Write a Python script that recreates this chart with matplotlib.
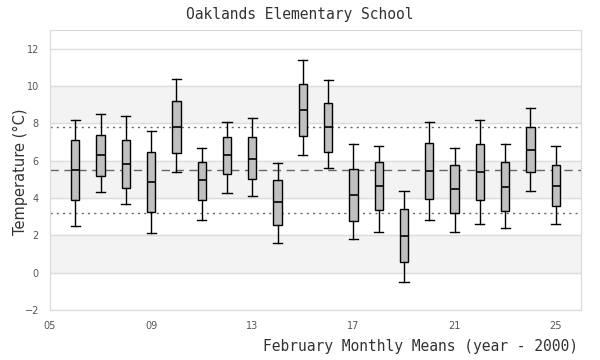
# February monthly mean temperatures - box plot per year

import matplotlib
matplotlib.use('Agg')
import matplotlib.pyplot as plt

years = list(range(6, 26))
whisker_lo = [2.50, 4.33, 3.70, 2.13, 5.40, 2.83, 4.26, 4.11, 1.59, 6.31,
              5.62, 1.81, 2.18, -0.50, 2.83, 2.18, 2.61, 2.40, 4.38, 2.61]
q1 = [3.90, 5.20, 4.54, 3.26, 6.42, 3.90, 5.28, 5.03, 2.56, 7.33,
      6.47, 2.77, 3.36, 0.57, 3.95, 3.20, 3.90, 3.31, 5.40, 3.58]
median = [5.51, 6.31, 5.83, 4.86, 7.82, 4.96, 6.30, 6.10, 3.79, 8.73,
          7.82, 4.17, 4.65, 1.97, 5.45, 4.49, 5.40, 4.60, 6.58, 4.65]
q3 = [7.12, 7.39, 7.12, 6.47, 9.21, 5.92, 7.26, 7.26, 4.97, 10.12,
      9.10, 5.56, 5.94, 3.42, 6.96, 5.78, 6.90, 5.92, 7.82, 5.78]
whisker_hi = [8.19, 8.51, 8.41, 7.60, 10.39, 6.67, 8.07, 8.30, 5.88, 11.41,
              10.34, 6.90, 6.80, 4.38, 8.07, 6.69, 8.19, 6.90, 8.83, 6.80]

overall_mean = 5.5
upper_ref = 7.8
lower_ref = 3.2

xticks = [5, 9, 13, 17, 21, 25]
yticks = [-2, 0, 2, 4, 6, 8, 10, 12]

fig = plt.figure(figsize=(6, 3.6), dpi=100)
ax = fig.add_axes([50 / 600, 1 - 310 / 360, 531 / 600, 280 / 360])

# alternating bands + grid
for lo in [0, 4, 8]:
    ax.axhspan(lo, lo + 2, color='#f3f3f3', zorder=0)
for y in yticks:
    ax.axhline(y, color='#dddddd', lw=1, zorder=0.5)

ax.axhline(overall_mean, color='#666666', lw=1, ls=(0, (6, 4)), zorder=1)
ax.axhline(upper_ref, color='#666666', lw=1, ls=(0, (1.5, 3)), zorder=1)
ax.axhline(lower_ref, color='#666666', lw=1, ls=(0, (1.5, 3)), zorder=1)

stats = []
for i in range(len(years)):
    stats.append({'whislo': whisker_lo[i], 'q1': q1[i], 'med': median[i],
                  'q3': q3[i], 'whishi': whisker_hi[i], 'fliers': []})

ax.bxp(stats, positions=years, widths=0.33, patch_artist=True, showfliers=False,
       boxprops=dict(facecolor='#c0c0c0', edgecolor='black', lw=1),
       medianprops=dict(color='black', lw=1.2),
       whiskerprops=dict(color='black', lw=1),
       capprops=dict(color='black', lw=1),
       capwidths=0.36, zorder=3)

ax.set_xlim(5, 26)
ax.set_ylim(-2, 13)
ax.set_xticks(xticks)
ax.set_xticklabels(['%02d' % x for x in xticks])
ax.set_yticks(yticks)
ax.tick_params(length=0, labelsize=7, labelcolor='#555555', pad=8)

for s in ax.spines.values():
    s.set_color('#d9d9d9')

fig.text(0.5, 1 - 14 / 360, 'Oaklands Elementary School', ha='center', va='center',
         family='DejaVu Sans Mono', fontsize=10.5, color='#333333')
fig.text(578 / 600, 1 - 347 / 360, 'February Monthly Means (year - 2000)', ha='right',
         va='center', family='DejaVu Sans Mono', fontsize=10.5, color='#333333')
fig.text(20 / 600, 1 - 172 / 360, 'Temperature (°C)', rotation=90, ha='center',
         va='center', fontsize=10.5, color='#333333')

plt.savefig('out.png', dpi=100)
